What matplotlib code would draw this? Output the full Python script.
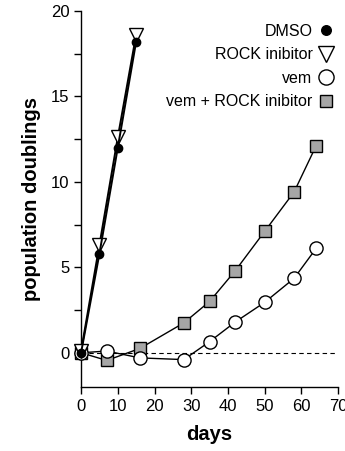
import matplotlib
matplotlib.use("Agg")
import matplotlib.pyplot as plt
from matplotlib.ticker import MultipleLocator

plt.rcParams["font.family"] = ["Liberation Sans", "DejaVu Sans"]

# ── Data ──────────────────────────────────────────────────────────────────────
DMSO_DAYS = [0, 5, 10, 15]
DMSO_PD   = [0.0, 5.8, 12.0, 18.2]

ROCK_DAYS = [0, 5, 10, 15]
ROCK_PD   = [0.1, 6.3, 12.6, 18.6]

VEM_DAYS = [0, 7, 16, 28, 35, 42, 50, 58, 64]
VEM_PD   = [0.0, 0.1, -0.3, -0.4, 0.65, 1.8, 2.95, 4.35, 6.1]

VEMROCK_DAYS = [0, 7, 16, 28, 35, 42, 50, 58, 64]
VEMROCK_PD   = [0.0, -0.45, 0.25, 1.75, 3.0, 4.8, 7.1, 9.4, 12.1]

X_TICKS = [0, 10, 20, 30, 40, 50, 60, 70]
Y_TICKS = [0, 5, 10, 15, 20]

fig = plt.figure(figsize=(3.45, 4.51), dpi=100)
ax = fig.add_axes([0.235, 0.142, 0.745, 0.834])

ax.axhline(0, color="black", lw=0.8, ls=(0, (4, 3)), zorder=1)

ax.plot(VEMROCK_DAYS, VEMROCK_PD, "-s", color="black", lw=1.0, ms=8,
        mfc="#a6a6a6", mec="black", mew=1.0, label="vem + ROCK inibitor",
        clip_on=False, zorder=3)
ax.plot(VEM_DAYS, VEM_PD, "-o", color="black", lw=1.0, ms=9.5,
        mfc="white", mec="black", mew=1.0, label="vem",
        clip_on=False, zorder=4)
ax.plot(ROCK_DAYS, ROCK_PD, "-v", color="black", lw=1.4, ms=10.5,
        mfc="white", mec="black", mew=1.0, label="ROCK inibitor",
        clip_on=False, zorder=5)
ax.plot(DMSO_DAYS, DMSO_PD, "-o", color="black", lw=1.4, ms=6,
        mfc="black", mec="black", label="DMSO",
        clip_on=False, zorder=6)

ax.set_xlim(0, 70)
ax.set_ylim(-2, 20)
ax.set_xticks(X_TICKS)
ax.set_yticks(Y_TICKS)
ax.yaxis.set_minor_locator(MultipleLocator(2.5))
ax.tick_params(axis="both", which="major", direction="out", length=5,
               width=1.0, labelsize=12)
ax.tick_params(axis="y", which="minor", direction="out", length=5, width=1.0)

for side in ("top", "right"):
    ax.spines[side].set_visible(False)
for side in ("left", "bottom"):
    ax.spines[side].set_linewidth(1.0)

ax.set_xlabel("days", fontsize=14.5, fontweight="bold", labelpad=8)
ax.set_ylabel("population doublings", fontsize=14.5, fontweight="bold", labelpad=7)

handles, labels = ax.get_legend_handles_labels()
order = [3, 2, 1, 0]
leg = ax.legend([handles[i] for i in order], [labels[i] for i in order],
                loc="upper right", bbox_to_anchor=(1.0, 0.982), borderaxespad=0,
                frameon=False, markerfirst=False, handlelength=0.7,
                handletextpad=0.5, labelspacing=0.53, fontsize=11.5,
                markerscale=1.15)
for h in leg.legend_handles:
    h.set_linestyle("none")

fig.savefig("out.png", dpi=100)
